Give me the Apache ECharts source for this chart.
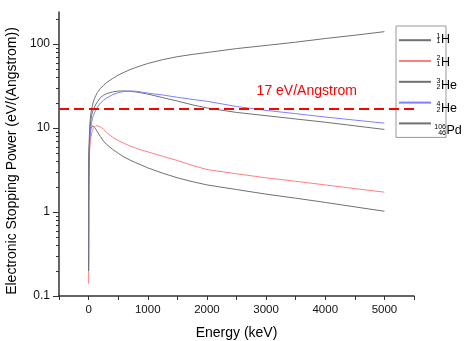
<!DOCTYPE html>
<html>
<head>
<meta charset="utf-8">
<script src="https://cdn.jsdelivr.net/npm/echarts@6/dist/echarts.min.js"></script>
<style>
  html, body { margin: 0; padding: 0; background: #fff; }
  #chart { width: 470px; height: 341px; }
</style>
</head>
<body>
<div id="chart"></div>
<script>
// energies in keV
const energy = [0.5, 2, 5, 10, 20, 30, 40, 50, 65, 80, 100, 125, 150, 200, 250, 300, 400, 500, 600, 700, 800, 900, 1000, 1250, 1500, 1750, 2000, 2500, 3000, 3500, 4000, 4500, 5000]

// electronic stopping power, eV/Angstrom
const h1 = [0.25, 1.5, 3.5, 5.5, 7.8, 9.0, 9.8, 10.3, 10.6, 10.5, 10.2, 9.6, 9.0, 7.9, 7.0, 6.4, 5.6, 5.0, 4.5, 4.15, 3.85, 3.6, 3.35, 2.9, 2.55, 2.3, 2.1, 1.85, 1.63, 1.46, 1.3, 1.15, 1.02]
const h2 = [0.14, 1.0, 2.5, 4.0, 5.8, 7.0, 7.9, 8.5, 9.3, 9.9, 10.4, 10.7, 10.7, 10.3, 9.7, 8.9, 7.8, 7.1, 6.55, 6.1, 5.75, 5.45, 5.2, 4.6, 4.1, 3.6, 3.2, 2.85, 2.55, 2.32, 2.1, 1.9, 1.72]
const he3 = [0.2, 1.5, 3.5, 5.5, 8.5, 10.5, 12.5, 14, 15.5, 16.5, 17.8, 19.3, 20.5, 23, 24.5, 25.5, 26.8, 27.5, 27.6, 27.3, 26.8, 26.1, 25.3, 23.0, 20.9, 18.9, 17.3, 15.3, 14.0, 12.8, 11.7, 10.6, 9.6]
const he4 = [0.2, 1.2, 2.8, 4.5, 7, 9, 10.5, 11.5, 13, 14, 15.2, 16.5, 17.8, 19.8, 21.3, 22.6, 24.8, 26.3, 27.2, 27.5, 27.4, 26.7, 26.0, 24.7, 23.2, 21.9, 20.8, 18.0, 16.2, 14.8, 13.5, 12.4, 11.4]
const pd = [0.2, 2, 4.5, 7, 10.5, 13, 15, 16.5, 18.5, 20.5, 22.5, 24.5, 26.5, 29.5, 32, 34.5, 38.5, 42.5, 46, 49.5, 52.5, 55.5, 58.5, 65, 70.5, 75, 79, 88, 96, 105, 116, 127, 140]

const names = ['1H', '2H', '3He', '4He', '106Pd']
const colors = ['#707070', '#ff7f7f', '#707070', '#7f7fff', '#707070']
// legend label pieces: mass number, atomic number, element
const supText = ['1', '2', '3', '4', '106']
const subText = ['1', '1', '2', '2', '46']
const elemText = ['H', 'H', 'He', 'He', 'Pd']

const threshold = 17
const thresholdLabel = '17 eV/Angstrom'

// log-axis minor tick values (2..9 of each decade)
const minorTickValues = [0.2, 0.3, 0.4, 0.5, 0.6, 0.7, 0.8, 0.9, 2, 3, 4, 5, 6, 7, 8, 9, 20, 30, 40, 50, 60, 70, 80, 90, 200]

const font = "'Liberation Sans', Arial, sans-serif"

const chart = echarts.init(document.getElementById('chart'), null, { renderer: 'canvas' })

const allSeries = [h1, h2, he3, he4, pd]

// stacked mass / atomic numbers next to the legend lines
const legendLabels = []
names.forEach((n, i) => {
  const y = 41.2 + 22.8 * i
  const col = supText[i].length > 1 ? 446 : 440.5
  legendLabels.push(
    { type: 'text', x: col, y: y - 5.5, z: 100,
      style: { text: supText[i], font: '7px ' + font, fill: '#000', align: 'right', verticalAlign: 'middle' } },
    { type: 'text', x: col, y: y + 0.3, z: 100,
      style: { text: subText[i], font: '7px ' + font, fill: '#000', align: 'right', verticalAlign: 'middle' } },
    { type: 'text', x: col + 0.5, y: y - 1.5, z: 100,
      style: { text: elemText[i], font: '12.5px ' + font, fill: '#000', align: 'left', verticalAlign: 'middle' } }
  )
})

const option = {
  animation: false,
  textStyle: { fontFamily: font },
  grid: { left: 59, right: 56, top: 12, bottom: 45, outerBoundsMode: 'none' },
  legend: {
    data: names,
    orient: 'vertical',
    left: 396,
    top: 26,
    padding: [8.2, 10, 8, 2],
    itemWidth: 32,
    itemHeight: 14,
    itemGap: 8.8,
    backgroundColor: '#fff',
    borderColor: '#999',
    borderWidth: 1,
    borderRadius: 0,
    itemStyle: { color: 'rgba(0,0,0,0)', borderWidth: 0 },
    formatter: () => '{w|}',
    textStyle: { rich: { w: { width: 40 } } },
  },
  xAxis: {
    type: 'value',
    min: -500,
    max: 5500,
    interval: 500,
    name: 'Energy (keV)',
    nameLocation: 'middle',
    nameGap: 30,
    nameTextStyle: { fontSize: 14, color: '#000', fontFamily: font },
    axisLine: { show: true, onZero: false, lineStyle: { color: '#333', width: 1.5 } },
    axisTick: { show: true, length: 4, lineStyle: { color: '#333' } },
    axisLabel: {
      fontSize: 11.5,
      color: '#111',
      margin: 8,
      formatter: (v) => (v % 1000 === 0 && v >= 0 && v <= 5000 ? String(v) : ''),
    },
    splitLine: { show: false },
  },
  yAxis: {
    type: 'log',
    logBase: 10,
    min: 0.1,
    max: 240,
    name: 'Electronic Stopping Power (eV/(Angstrom))',
    nameLocation: 'middle',
    nameRotate: 90,
    nameGap: 36,
    nameTextStyle: { fontSize: 14, color: '#000', fontFamily: font, padding: [0, 14, 0, 0] },
    axisLine: { show: true, onZero: false, lineStyle: { color: '#333', width: 1.5 } },
    axisTick: { show: true, length: 6, lineStyle: { color: '#333' } },
    axisLabel: { fontSize: 12, color: '#111', margin: 9, showMaxLabel: false },
    splitLine: { show: false },
  },
  series: names.map((n, i) => {
    const s = {
      name: n,
      type: 'line',
      symbol: 'none',
      z: 2,
      color: colors[i],
      lineStyle: { color: colors[i], width: 1 },
      data: energy.map((e, k) => [e, allSeries[i][k]]),
    }
    if (i === 0) {
      s.markLine = {
        silent: true,
        symbol: ['none', 'none'],
        lineStyle: { color: '#ff0000', type: [10, 5], width: 2 },
        label: {
          show: true,
          formatter: thresholdLabel,
          position: 'insideEndTop',
          distance: [57, 10],
          color: '#ff0000',
          fontSize: 14,
          fontFamily: font,
        },
        data: [{ yAxis: threshold }],
      }
    }
    return s
  }),
  graphic: legendLabels,
}

chart.setOption(option)

// minor ticks on the log axis, placed through the axis scale
const axisX = chart.convertToPixel({ xAxisIndex: 0 }, -500)
const minorTicks = minorTickValues.map((v) => {
  const py = Math.round(chart.convertToPixel({ yAxisIndex: 0 }, v)) + 0.5
  return {
    type: 'line',
    silent: true,
    z: 50,
    shape: { x1: axisX - 3, y1: py, x2: axisX, y2: py },
    style: { stroke: '#333', lineWidth: 1 },
  }
})
chart.setOption({ graphic: legendLabels.concat(minorTicks) })
</script>
</body>
</html>
